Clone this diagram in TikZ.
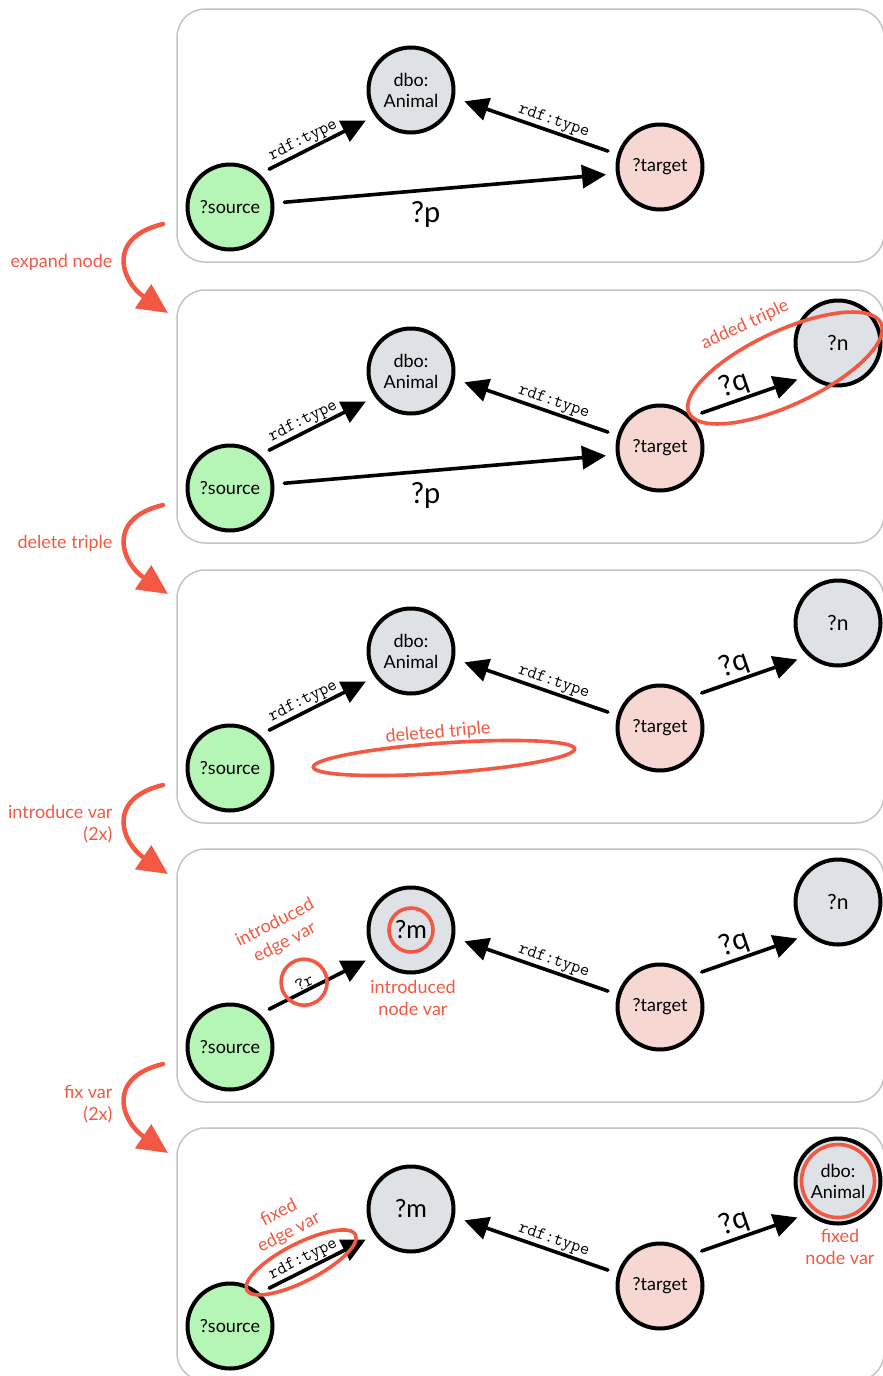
\documentclass[tikz,border=0pt]{standalone}
\usepackage{fontspec}
\setmainfont{Lato}
\usetikzlibrary{arrows.meta,shapes.geometric,calc}

\definecolor{annot}{RGB}{243,88,66}
\definecolor{srcfill}{RGB}{181,245,181}
\definecolor{varfill}{RGB}{222,226,231}
\definecolor{tgtfill}{RGB}{246,215,209}
\definecolor{panelline}{RGB}{196,196,196}

\tikzset{
  vnode/.style={circle, draw=black, line width=4pt, minimum size=85pt,
    inner sep=0pt, outer sep=12pt, fill=varfill, align=center,
    font=\fontsize{18}{21}\selectfont},
  srcnode/.style={vnode, fill=srcfill},
  tgtnode/.style={vnode, fill=tgtfill},
  bigvar/.style={font=\fontsize{25}{25}\selectfont},
  midvar/.style={font=\fontsize{21}{21}\selectfont},
  edge/.style={line width=3.6pt, line cap=round, -{Triangle[length=24pt,width=23pt]}},
  pred/.style={font=\ttfamily\fontsize{18}{18}\selectfont, sloped, above,
    inner sep=1pt},
  varlabel/.style={font=\fontsize{29}{29}\selectfont},
  panel/.style={draw=panelline, line width=1.5pt, rounded corners=28pt},
  note/.style={text=annot, font=\fontsize{18}{22}\selectfont, align=center},
  hilite/.style={draw=annot, line width=3.6pt, inner sep=0pt},
  flowarrow/.style={draw=annot, line width=4.5pt, line cap=round,
    -{Triangle[length=30pt,width=28pt]}}
}

\begin{document}
\begin{tikzpicture}[x=1pt,y=-1pt]
\useasboundingbox (0,0) rectangle (883,1376);
\fill[white] (0,0) rectangle (883,1376);

% ---------- step 1: initial pattern ----------
\begin{scope}
  \draw[panel] (177,9) rectangle (884,262);
  \node[srcnode] (s1) at (230,207) {?source};
  \node[vnode] (a1) at (411,90) {dbo:\\Animal};
  \node[tgtnode] (t1) at (660,167) {?target};
  \draw[edge] (s1.44) -- node[pred, pos=0.4] {rdf:type} (a1.214);
  \draw[edge] (t1.163) -- node[pred, pos=0.4] {rdf:type} (a1.-12);
  \draw[edge] (s1.5) -- node[varlabel, pos=0.44, below=6pt] {?p} (t1.188);
\end{scope}

% ---------- step 2: expanded node ----------
\begin{scope}[yshift=-281pt]
  \draw[panel] (177,9) rectangle (884,262);
  \node[srcnode] (s2) at (230,207) {?source};
  \node[vnode] (a2) at (411,90) {dbo:\\Animal};
  \node[tgtnode] (t2) at (660,167) {?target};
  \node[vnode, midvar] (n2) at (838,62) {?n};
  \draw[edge] (s2.44) -- node[pred, pos=0.4] {rdf:type} (a2.214);
  \draw[edge] (t2.163) -- node[pred, pos=0.4] {rdf:type} (a2.-12);
  \draw[edge] (s2.5) -- node[varlabel, pos=0.44, below=6pt] {?p} (t2.188);
  \draw[edge] (t2.40) -- node[varlabel, sloped, above, pos=0.4, inner sep=1pt] {?q} (n2.222);
  \node[hilite, ellipse, minimum width=212pt, minimum height=74pt, rotate=25] (e2) at (785,87) {};
  \node[note, rotate=25] (l2) at (745,44) {added triple};
\end{scope}

% ---------- step 3: deleted triple ----------
\begin{scope}[yshift=-561pt]
  \draw[panel] (177,9) rectangle (884,262);
  \node[srcnode] (s3) at (230,207) {?source};
  \node[vnode] (a3) at (411,90) {dbo:\\Animal};
  \node[tgtnode] (t3) at (660,167) {?target};
  \node[vnode, midvar] (n3) at (838,62) {?n};
  \draw[edge] (s3.44) -- node[pred, pos=0.4] {rdf:type} (a3.214);
  \draw[edge] (t3.163) -- node[pred, pos=0.4] {rdf:type} (a3.-12);
  \draw[edge] (t3.40) -- node[varlabel, sloped, above, pos=0.4, inner sep=1pt] {?q} (n3.222);
  \node[hilite, ellipse, minimum width=262pt, minimum height=30pt, rotate=4] (e3) at (444,197) {};
  \node[note, rotate=5] (l3) at (438,172) {deleted triple};
\end{scope}

% ---------- step 4: introduced variables ----------
\begin{scope}[yshift=-840pt]
  \draw[panel] (177,9) rectangle (884,262);
  \node[srcnode] (s4) at (230,207) {?source};
  \node[vnode, bigvar] (m4) at (411,90) {?m};
  \node[tgtnode] (t4) at (660,167) {?target};
  \node[vnode, midvar] (n4) at (838,62) {?n};
  \draw[edge] (s4.44) -- node[pred, pos=0.4] (r4) {?r} (m4.214);
  \draw[edge] (t4.163) -- node[pred, pos=0.4] {rdf:type} (m4.-12);
  \draw[edge] (t4.40) -- node[varlabel, sloped, above, pos=0.4, inner sep=1pt] {?q} (n4.222);
  \node[hilite, circle, minimum size=44pt] (c4m) at (m4) {};
  \node[hilite, circle, minimum size=46pt] (c4r) at (r4) {};
  \node[note, rotate=27] (l4e) at (280,93) {introduced\\edge var};
  \node[note] (l4n) at (413,158) {introduced\\node var};
\end{scope}

% ---------- step 5: fixed variables ----------
\begin{scope}[yshift=-1119pt]
  \draw[panel] (177,9) rectangle (884,262);
  \node[srcnode] (s5) at (230,207) {?source};
  \node[vnode, bigvar] (m5) at (411,90) {?m};
  \node[tgtnode] (t5) at (660,167) {?target};
  \node[vnode] (n5) at (838,62) {dbo:\\Animal};
  \draw[edge] (s5.44) -- node[pred, pos=0.4] (p5) {rdf:type} (m5.214);
  \draw[edge] (t5.163) -- node[pred, pos=0.4] {rdf:type} (m5.-12);
  \draw[edge] (t5.40) -- node[varlabel, sloped, above, pos=0.4, inner sep=1pt] {?q} (n5.222);
  \node[hilite, ellipse, minimum width=122pt, minimum height=38pt, rotate=27] (c5p) at ($(p5)+(-2,3)$) {};
  \node[hilite, circle, minimum size=73pt] (c5n) at (n5) {};
  \node[note, rotate=27] (l5e) at (284,104) {fixed\\edge var};
  \node[note] (l5n) at (840,128) {fixed\\node var};
\end{scope}

% ---------- transitions between steps ----------
\foreach \off/\name in {0/expand, 281/delete, 561/introduce, 840/fix}{
  \coordinate (\name-from) at (163,224+\off);
  \coordinate (\name-to) at (168,313+\off);
  \draw[flowarrow] (\name-from) .. controls (105,238+\off) and (122,282+\off) .. (\name-to);
}
\node[note, anchor=east] (t-expand) at (116,262) {expand node};
\node[note, anchor=east] (t-delete) at (116,543) {delete triple};
\node[note, anchor=east, align=right] (t-introduce) at (116,824) {introduce var\\(2x)};
\node[note, anchor=east, align=right] (t-fix) at (116,1104) {fix var\\(2x)};
\end{tikzpicture}
\end{document}
